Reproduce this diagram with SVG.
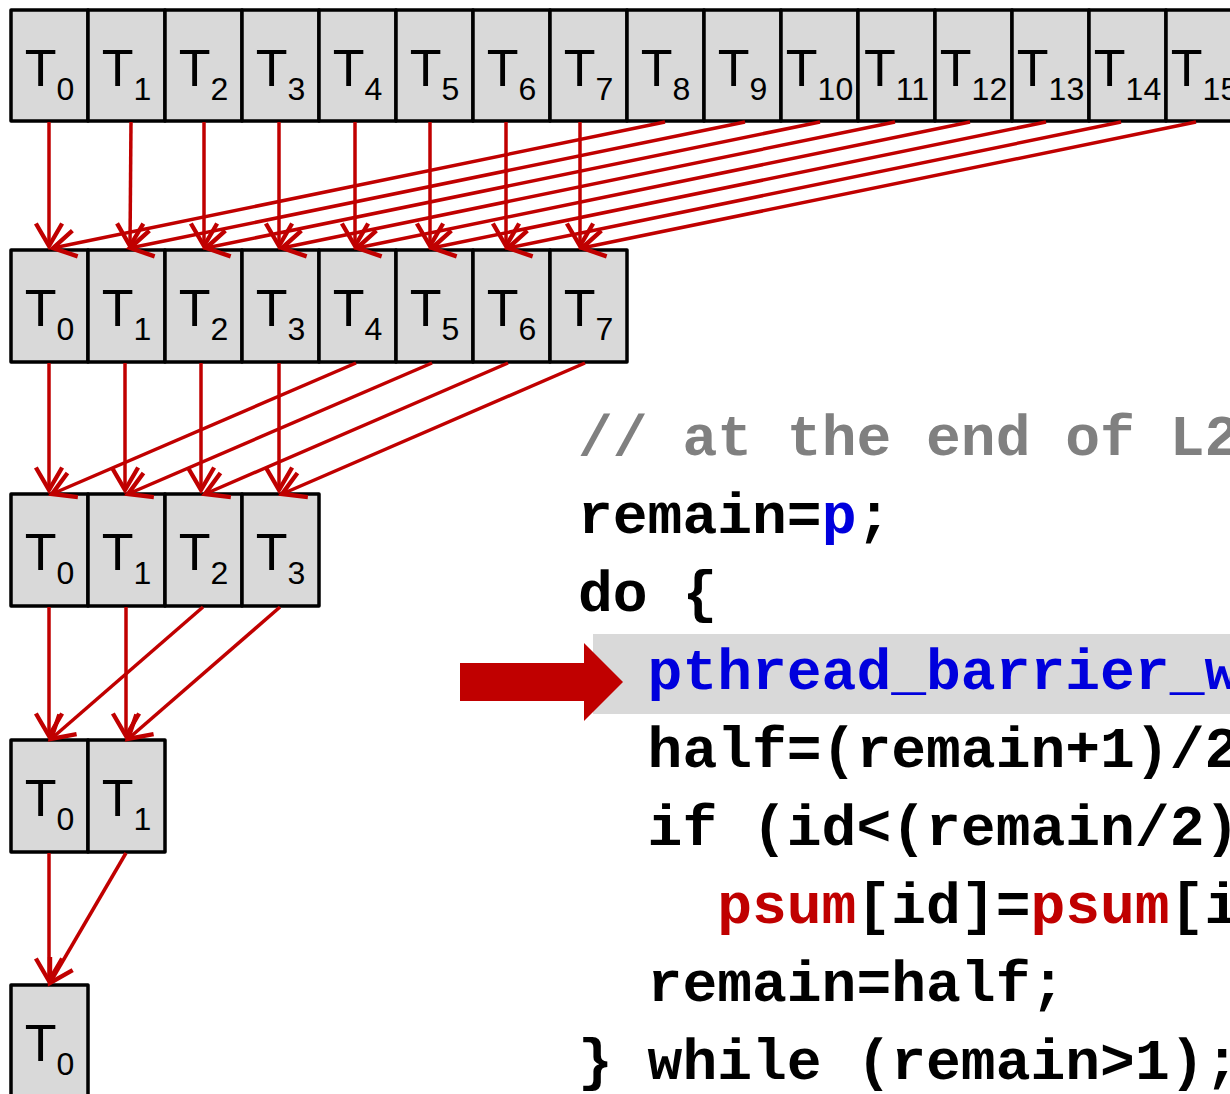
<svg xmlns="http://www.w3.org/2000/svg" width="1230" height="1094" viewBox="0 0 1230 1094">
  <style>
    .cell rect { fill: #D9D9D9; stroke: #000; stroke-width: 3.5; stroke-linejoin: round; }
    .cell text { font-family: "Liberation Sans", Arial, sans-serif; font-size: 52px; fill: #000; text-anchor: middle; }
    .cell tspan.sub { font-size: 32px; }
    .conn line { stroke: #C00000; stroke-width: 3.5; marker-end: url(#ah); }
    .code { font-family: "Liberation Mono", "Courier New", monospace; font-size: 58px; font-weight: bold; fill: #000; }
    .cmt { fill: #808080; }
    .kw { fill: #0000DD; }
    .red { fill: #C00000; }
  </style>
  <defs>
    <marker id="ah" markerUnits="userSpaceOnUse" markerWidth="30" markerHeight="30" viewBox="-20 -12 22 24" refX="0" refY="0" orient="auto" overflow="visible">
      <path d="M-18,-10.5 L0,0 L-18,10.5" fill="none" stroke="#C00000" stroke-width="3.5"/>
    </marker>
  </defs>

  <!-- level 0: 16 threads -->
  <g id="row16">
    <g id="r16-t0" class="cell"><rect x="11" y="10" width="77" height="111"/><text x="49.5" y="86">T<tspan class="sub" dy="14">0</tspan></text></g>
    <g id="r16-t1" class="cell"><rect x="88" y="10" width="77" height="111"/><text x="126.5" y="86">T<tspan class="sub" dy="14">1</tspan></text></g>
    <g id="r16-t2" class="cell"><rect x="165" y="10" width="77" height="111"/><text x="203.5" y="86">T<tspan class="sub" dy="14">2</tspan></text></g>
    <g id="r16-t3" class="cell"><rect x="242" y="10" width="77" height="111"/><text x="280.5" y="86">T<tspan class="sub" dy="14">3</tspan></text></g>
    <g id="r16-t4" class="cell"><rect x="319" y="10" width="77" height="111"/><text x="357.5" y="86">T<tspan class="sub" dy="14">4</tspan></text></g>
    <g id="r16-t5" class="cell"><rect x="396" y="10" width="77" height="111"/><text x="434.5" y="86">T<tspan class="sub" dy="14">5</tspan></text></g>
    <g id="r16-t6" class="cell"><rect x="473" y="10" width="77" height="111"/><text x="511.5" y="86">T<tspan class="sub" dy="14">6</tspan></text></g>
    <g id="r16-t7" class="cell"><rect x="550" y="10" width="77" height="111"/><text x="588.5" y="86">T<tspan class="sub" dy="14">7</tspan></text></g>
    <g id="r16-t8" class="cell"><rect x="627" y="10" width="77" height="111"/><text x="665.5" y="86">T<tspan class="sub" dy="14">8</tspan></text></g>
    <g id="r16-t9" class="cell"><rect x="704" y="10" width="77" height="111"/><text x="742.5" y="86">T<tspan class="sub" dy="14">9</tspan></text></g>
    <g id="r16-t10" class="cell"><rect x="781" y="10" width="77" height="111"/><text x="819.5" y="86">T<tspan class="sub" dy="14">10</tspan></text></g>
    <g id="r16-t11" class="cell"><rect x="858" y="10" width="77" height="111"/><text x="896.5" y="86">T<tspan class="sub" dy="14">11</tspan></text></g>
    <g id="r16-t12" class="cell"><rect x="935" y="10" width="77" height="111"/><text x="973.5" y="86">T<tspan class="sub" dy="14">12</tspan></text></g>
    <g id="r16-t13" class="cell"><rect x="1012" y="10" width="77" height="111"/><text x="1050.5" y="86">T<tspan class="sub" dy="14">13</tspan></text></g>
    <g id="r16-t14" class="cell"><rect x="1089" y="10" width="77" height="111"/><text x="1127.5" y="86">T<tspan class="sub" dy="14">14</tspan></text></g>
    <g id="r16-t15" class="cell"><rect x="1166" y="10" width="77" height="111"/><text x="1204.5" y="86">T<tspan class="sub" dy="14">15</tspan></text></g>
  </g>

  <!-- level 1: 8 threads -->
  <g id="row8">
    <g id="r8-t0" class="cell"><rect x="11" y="250" width="77" height="112"/><text x="49.5" y="326">T<tspan class="sub" dy="14">0</tspan></text></g>
    <g id="r8-t1" class="cell"><rect x="88" y="250" width="77" height="112"/><text x="126.5" y="326">T<tspan class="sub" dy="14">1</tspan></text></g>
    <g id="r8-t2" class="cell"><rect x="165" y="250" width="77" height="112"/><text x="203.5" y="326">T<tspan class="sub" dy="14">2</tspan></text></g>
    <g id="r8-t3" class="cell"><rect x="242" y="250" width="77" height="112"/><text x="280.5" y="326">T<tspan class="sub" dy="14">3</tspan></text></g>
    <g id="r8-t4" class="cell"><rect x="319" y="250" width="77" height="112"/><text x="357.5" y="326">T<tspan class="sub" dy="14">4</tspan></text></g>
    <g id="r8-t5" class="cell"><rect x="396" y="250" width="77" height="112"/><text x="434.5" y="326">T<tspan class="sub" dy="14">5</tspan></text></g>
    <g id="r8-t6" class="cell"><rect x="473" y="250" width="77" height="112"/><text x="511.5" y="326">T<tspan class="sub" dy="14">6</tspan></text></g>
    <g id="r8-t7" class="cell"><rect x="550" y="250" width="77" height="112"/><text x="588.5" y="326">T<tspan class="sub" dy="14">7</tspan></text></g>
  </g>

  <!-- level 2: 4 threads -->
  <g id="row4">
    <g id="r4-t0" class="cell"><rect x="11" y="494" width="77" height="112"/><text x="49.5" y="570">T<tspan class="sub" dy="14">0</tspan></text></g>
    <g id="r4-t1" class="cell"><rect x="88" y="494" width="77" height="112"/><text x="126.5" y="570">T<tspan class="sub" dy="14">1</tspan></text></g>
    <g id="r4-t2" class="cell"><rect x="165" y="494" width="77" height="112"/><text x="203.5" y="570">T<tspan class="sub" dy="14">2</tspan></text></g>
    <g id="r4-t3" class="cell"><rect x="242" y="494" width="77" height="112"/><text x="280.5" y="570">T<tspan class="sub" dy="14">3</tspan></text></g>
  </g>

  <!-- level 3: 2 threads -->
  <g id="row2">
    <g id="r2-t0" class="cell"><rect x="11" y="740" width="77" height="112"/><text x="49.5" y="816">T<tspan class="sub" dy="14">0</tspan></text></g>
    <g id="r2-t1" class="cell"><rect x="88" y="740" width="77" height="112"/><text x="126.5" y="816">T<tspan class="sub" dy="14">1</tspan></text></g>
  </g>

  <!-- level 4: final thread -->
  <g id="row1">
    <g id="r1-t0" class="cell"><rect x="11" y="985" width="77" height="112"/><text x="49.5" y="1061">T<tspan class="sub" dy="14">0</tspan></text></g>
  </g>

  <!-- reduction connectors -->
  <g id="connectors" class="conn">
    <!-- 16 -> 8 -->
    <line x1="49" y1="122" x2="49" y2="246"/>
    <line x1="131" y1="122" x2="130" y2="246"/>
    <line x1="204" y1="122" x2="204" y2="246"/>
    <line x1="279" y1="122" x2="279" y2="246"/>
    <line x1="355" y1="122" x2="355" y2="246"/>
    <line x1="430" y1="122" x2="430" y2="246"/>
    <line x1="506" y1="122" x2="506" y2="246"/>
    <line x1="580" y1="122" x2="580" y2="246"/>
    <line x1="665" y1="122" x2="53" y2="248"/>
    <line x1="745" y1="122" x2="130" y2="248"/>
    <line x1="820" y1="122" x2="206" y2="248"/>
    <line x1="895" y1="122" x2="282" y2="248"/>
    <line x1="970" y1="122" x2="357" y2="248"/>
    <line x1="1046" y1="122" x2="432" y2="248"/>
    <line x1="1121" y1="122" x2="508" y2="248"/>
    <line x1="1196" y1="122" x2="582" y2="248"/>
    <!-- 8 -> 4 -->
    <line x1="49" y1="363" x2="49" y2="490"/>
    <line x1="125" y1="363" x2="125" y2="490"/>
    <line x1="201" y1="363" x2="201" y2="490"/>
    <line x1="279" y1="363" x2="279" y2="490"/>
    <line x1="356" y1="363" x2="52" y2="494"/>
    <line x1="432" y1="363" x2="128" y2="494"/>
    <line x1="508" y1="363" x2="205" y2="494"/>
    <line x1="585" y1="363" x2="282" y2="494"/>
    <!-- 4 -> 2 -->
    <line x1="49" y1="607" x2="49" y2="736"/>
    <line x1="126" y1="607" x2="126" y2="736"/>
    <line x1="203" y1="607" x2="51" y2="739"/>
    <line x1="280" y1="607" x2="128" y2="739"/>
    <!-- 2 -> 1 -->
    <line x1="49" y1="853" x2="49" y2="981"/>
    <line x1="126" y1="853" x2="50" y2="983"/>
  </g>

  <!-- code listing -->
  <g id="code">
    <rect id="highlight" x="593" y="634" width="640" height="80" fill="#D9D9D9"/>
    <polygon id="pointer" points="460,663 584,663 584,643 623,682 584,721 584,701 460,701" fill="#C00000"/>
    <text class="code cmt" x="578" y="455">// at the end of L2</text>
    <text class="code" x="578" y="533">remain=<tspan class="kw">p</tspan>;</text>
    <text class="code" x="578" y="611">do {</text>
    <text class="code kw" x="647.6" y="689">pthread_barrier_w</text>
    <text class="code" x="647.6" y="767">half=(remain+1)/2</text>
    <text class="code" x="647.6" y="845">if (id&lt;(remain/2)</text>
    <text class="code" x="717.2" y="923"><tspan class="red">psum</tspan>[id]=<tspan class="red">psum</tspan>[i</text>
    <text class="code" x="647.6" y="1001">remain=half;</text>
    <text class="code" x="578" y="1079">} while (remain&gt;1);</text>
  </g>
</svg>
